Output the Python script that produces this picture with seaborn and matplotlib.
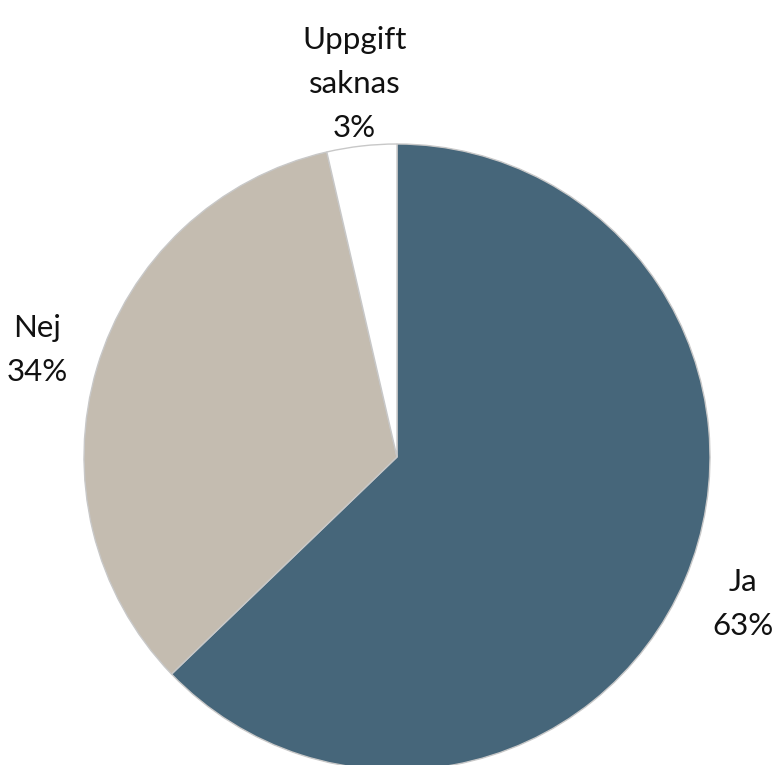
import matplotlib
matplotlib.use("Agg")
import matplotlib.pyplot as plt
import seaborn as sns

categories = ["Ja", "Nej", "Uppgift\nsaknas"]
values = [62.8, 33.6, 3.6]
pct_labels = ["63%", "34%", "3%"]
colors = ["#46667A", "#C4BCB0", "#FFFFFF"]

sns.set_theme(style="white")
plt.rcParams["font.family"] = ["Lato", "DejaVu Sans"]

fig = plt.figure(figsize=(7.76, 7.65), dpi=100)
ax = fig.add_axes([0, 0, 1, 1])

palette = sns.color_palette(colors)
labels = [f"{c}\n{p}" for c, p in zip(categories, pct_labels)]
wedges, texts = ax.pie(values, labels=labels, colors=palette, startangle=90,
                       counterclock=False, center=(397, 308), radius=313,
                       labeldistance=1.2, frame=True,
                       wedgeprops=dict(edgecolor="#C8C8C8", linewidth=1.0),
                       textprops=dict(fontsize=22.5, color="#111111", linespacing=1.7))
for t in texts:
    t.set_ha("center")
    t.set_va("center")
    t.set_multialignment("center")
ax.set_xlim(0, 776)
ax.set_ylim(0, 765)
ax.set_aspect("equal")
ax.axis("off")

fig.savefig("out.png", dpi=100)
